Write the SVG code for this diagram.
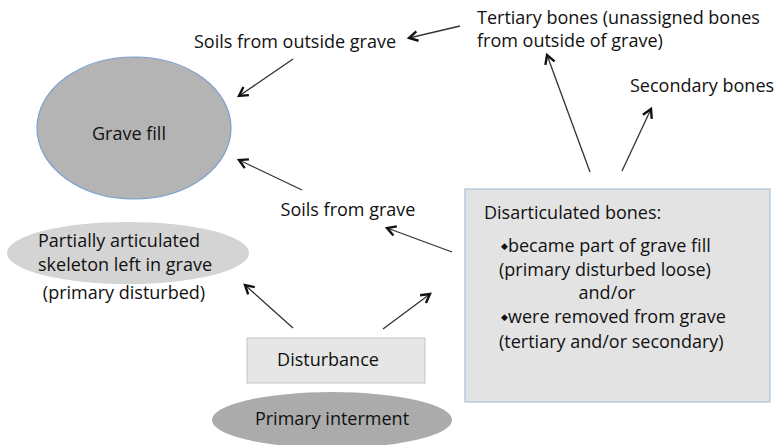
<svg xmlns="http://www.w3.org/2000/svg" width="774" height="445" viewBox="0 0 774 445">
<defs>
<marker id="ah" viewBox="0 0 12 12" refX="10" refY="6" markerWidth="13" markerHeight="13" markerUnits="userSpaceOnUse" orient="auto">
<path d="M2,1.5 L10,6 L2,10.5" fill="none" stroke="#111" stroke-width="2.2"/>
</marker>
</defs>
<style>
text{font-family:"Open Sans","Liberation Sans",sans-serif;font-size:18px;fill:#111}
.c{text-anchor:middle}
.conn line{stroke:#333;stroke-width:1.3;marker-end:url(#ah)}
.bul{font-size:9px}
</style>
<rect width="774" height="445" fill="#fff"/>
<g id="grave-fill">
<ellipse cx="134" cy="128" rx="97" ry="71" fill="#b4b4b4" stroke="#7ba0cf" stroke-width="1.2"/>
<text class="c" x="129" y="140">Grave fill</text>
</g>
<g id="soils-outside">
<text class="c" x="295" y="48">Soils from outside grave</text>
</g>
<g id="tertiary">
<text x="477" y="24">Tertiary bones (unassigned bones</text>
<text x="477" y="47">from outside of grave)</text>
</g>
<g id="secondary">
<text x="630" y="92">Secondary bones</text>
</g>
<g id="soils-grave">
<text class="c" x="348" y="216">Soils from grave</text>
</g>
<g id="partial">
<ellipse cx="128" cy="253" rx="121" ry="31" fill="#d4d4d4"/>
<text x="38" y="247">Partially articulated</text>
<text x="38" y="271">skeleton left in grave</text>
<text class="c" x="124" y="299">(primary disturbed)</text>
</g>
<g id="disturbance">
<rect x="247" y="338" width="178" height="45" fill="#e6e6e6" stroke="#c4c4c4" stroke-width="1"/>
<text class="c" x="328" y="366">Disturbance</text>
</g>
<g id="primary">
<ellipse cx="332" cy="420" rx="120" ry="28" fill="#ababab"/>
<text class="c" x="332" y="425">Primary interment</text>
</g>
<g id="disarticulated">
<rect x="465" y="189" width="305" height="213" fill="#e3e3e3" stroke="#a9c0da" stroke-width="1.2"/>
<text x="484" y="219">Disarticulated bones:</text>
<text x="501" y="252"><tspan class="bul" dy="-3">◆</tspan><tspan dy="3">became part of grave fill</tspan></text>
<text x="499" y="276">(primary disturbed loose)</text>
<text class="c" x="607" y="299">and/or</text>
<text x="501" y="323"><tspan class="bul" dy="-3">◆</tspan><tspan dy="3">were removed from grave</tspan></text>
<text x="499" y="348">(tertiary and/or secondary)</text>
</g>
<g class="conn" id="connectors">
<line x1="460" y1="26" x2="409" y2="38"/>
<line x1="293" y1="59" x2="239" y2="96"/>
<line x1="302" y1="190" x2="239" y2="160"/>
<line x1="452" y1="252" x2="387" y2="228"/>
<line x1="590" y1="172" x2="547" y2="55"/>
<line x1="622" y1="171" x2="651" y2="109"/>
<line x1="293" y1="328" x2="245" y2="285"/>
<line x1="383" y1="329" x2="430" y2="294"/>
</g>
</svg>
